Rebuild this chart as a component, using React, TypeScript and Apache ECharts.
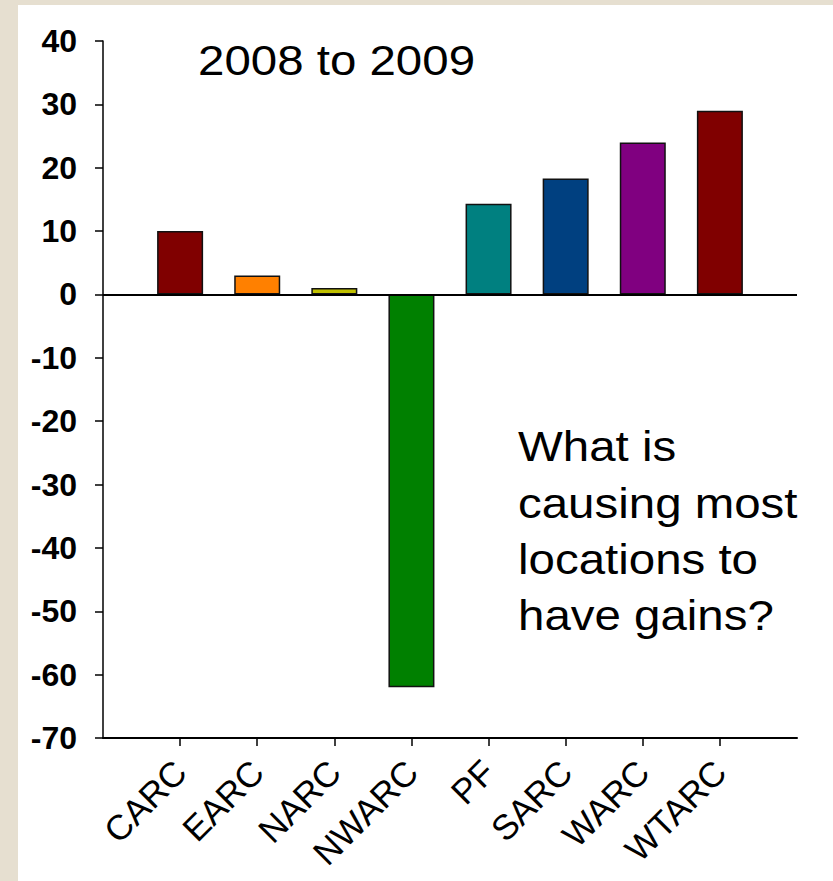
import React, { useEffect, useRef } from "react";
import * as echarts from "echarts";

const categories = ["CARC", "EARC", "NARC", "NWARC", "PF", "SARC", "WARC", "WTARC"];
const values = [10, 3, 1, -62, 14.3, 18.3, 24, 29];
const barColors = ["#800000", "#FF8000", "#C0C000", "#008000", "#008080", "#004080", "#800080", "#800000"];
const yMin = -70;
const yMax = 40;
const yStep = 10;
const titleText = "2008 to 2009";
const questionLines = ["What is", "causing most", "locations to", "have gains?"];

const FONT = "'Liberation Sans', Arial, Helvetica, sans-serif";

export default function App() {
  const ref = useRef<HTMLDivElement>(null);

  useEffect(() => {
    if (!ref.current) return;
    const chart = echarts.init(ref.current, null, { renderer: "svg" });
    const axisCats = ["", ...categories, ""];
    const barData: any[] = [
      null,
      ...values.map((v, i) => ({ value: v, itemStyle: { color: barColors[i] } })),
      null,
    ];
    const ox = 18;
    const oy = 5;
    chart.setOption({
      animation: false,
      backgroundColor: "#ffffff",
      grid: { left: 103 - ox, top: 41 - oy, width: 694, height: 697, containLabel: false },
      xAxis: {
        type: "category",
        data: axisCats,
        boundaryGap: false,
        axisLine: { onZero: false, lineStyle: { color: "#000", width: 2 } },
        axisTick: {
          show: true,
          length: 8,
          interval: (i: number) => i > 0 && i < axisCats.length - 1,
          lineStyle: { color: "#000", width: 1.5 },
        },
        axisLabel: {
          interval: 0,
          rotate: 45,
          margin: 28,
          fontSize: 35,
          fontFamily: FONT,
          color: "#000",
        },
        splitLine: { show: false },
      },
      yAxis: {
        type: "value",
        min: yMin,
        max: yMax,
        interval: yStep,
        axisLine: { show: true, lineStyle: { color: "#000", width: 1.5 } },
        axisTick: { show: true, length: 8, lineStyle: { color: "#000", width: 1.5 } },
        axisLabel: {
          margin: 26,
          fontSize: 32,
          fontWeight: "bold",
          fontFamily: FONT,
          color: "#000",
        },
        splitLine: { show: false },
      },
      series: [
        {
          type: "bar",
          data: barData,
          barWidth: 46,
          itemStyle: { borderColor: "#111", borderWidth: 1.5 },
          markLine: {
            silent: true,
            symbol: ["none", "none"],
            label: { show: false },
            lineStyle: { color: "#000", width: 2, type: "solid" },
            data: [{ yAxis: 0 }],
          },
        },
      ],
      graphic: [
        {
          type: "text",
          x: 198 - ox,
          y: 60 - oy,
          scaleX: 1.13,
          style: {
            text: titleText,
            x: 0,
            y: 0,
            fontSize: 42,
            fontFamily: FONT,
            fill: "#000",
            textAlign: "left",
            textVerticalAlign: "middle",
          },
        },
        {
          type: "text",
          x: 518 - ox,
          y: 418 - oy,
          scaleX: 1.13,
          style: {
            text: questionLines.join("\n"),
            x: 0,
            y: 0,
            fontSize: 42,
            lineHeight: 56.4,
            fontFamily: FONT,
            fill: "#000",
            textAlign: "left",
            textVerticalAlign: "top",
          },
        },
      ],
    });
    return () => chart.dispose();
  }, []);

  return (
    <div
      style={{
        position: "fixed",
        left: 0,
        top: 0,
        width: 833,
        height: 881,
        background: "#E6DFD0",
        overflow: "hidden",
      }}
    >
      <div
        ref={ref}
        style={{ position: "absolute", left: 18, top: 5, width: 815, height: 876 }}
      />
    </div>
  );
}
